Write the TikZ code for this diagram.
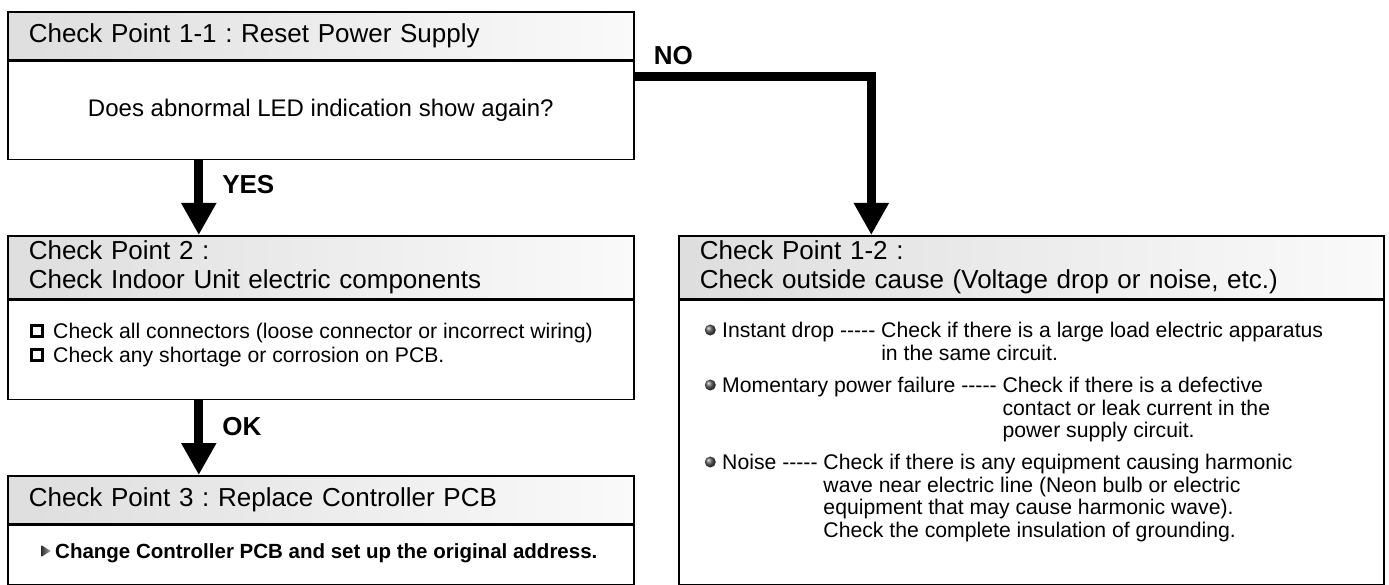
\documentclass[tikz,border=0pt]{standalone}
\usepackage{fontspec}
\setmainfont{Liberation Sans}
\usetikzlibrary{arrows.meta,positioning,shapes.geometric}
\frenchspacing
\newcommand\dashes{\mbox{-}\mbox{-}\mbox{-}\mbox{-}\mbox{-}}

\begin{document}
\begin{tikzpicture}[x=1pt,y=-1pt,
    box/.style={draw,line width=1.6pt,inner sep=0pt,anchor=north west},
    head/.style={box,shading=axis,left color=black!13,right color=black!2,
      align=left,inner xsep=21pt,font=\fontsize{26}{29.5}\selectfont},
    body/.style={box,fill=white},
    item/.style={anchor=north west,inner sep=0pt,align=left,
      font=\fontsize{21.2}{22.5}\selectfont},
    ball/.style={circle,inner sep=0pt,minimum size=11pt,ball color=black!65},
    tick/.style={draw,line width=2.7pt,inner sep=0pt,minimum size=11.5pt},
    pointer/.style={isosceles triangle,isosceles triangle apex angle=65,
      inner sep=0pt,minimum height=9pt,left color=black!80,right color=black!35},
    flow/.style={line width=9pt,-{Triangle[length=32pt,width=33pt]}},
    answer/.style={inner sep=0pt,font=\bfseries\fontsize{26}{29}\selectfont}]
  \useasboundingbox (0,0) rectangle (1389,585);

  % Check point 1-1
  \node[head,text width=584pt,minimum height=48pt] (hd1) at (7,11)
    {Check Point 1-1 : Reset Power Supply};
  \node[body,minimum width=626pt,minimum height=98pt,
    font=\fontsize{24}{28}\selectfont] (bd1) at (hd1.south west)
    {Does abnormal LED indication show again?};

  % Check point 2
  \node[head,text width=584pt,minimum height=63pt] (hd2) at (7,235)
    {Check Point 2 :\\Check Indoor Unit electric components};
  \node[body,minimum width=626pt,minimum height=99pt] (bd2) at (hd2.south west) {};
  \node[item] (conn) at (53,323)
    {Check all connectors (loose connector or incorrect wiring)};
  \node[item] (pcb) at (53,347) {Check any shortage or corrosion on PCB.};
  \node[tick,left=9pt of conn.north west,yshift=-8pt] {};
  \node[tick,left=9pt of pcb.north west,yshift=-8pt] {};

  % Check point 3
  \node[head,text width=584pt,minimum height=48pt] (hd3) at (7,475)
    {Check Point 3 : Replace Controller PCB};
  \node[body,minimum width=626pt,minimum height=59pt] (bd3) at (hd3.south west) {};
  \node[item,font=\bfseries\fontsize{20.5}{25}\selectfont] (swap) at (55,543)
    {Change Controller PCB and set up the original address.};
  \node[pointer,left=4pt of swap.north west,yshift=-8pt] {};

  % Check point 1-2
  \node[head,text width=663pt,minimum height=63pt] (hd4) at (678,235)
    {Check Point 1-2 :\\Check outside cause (Voltage drop or noise, etc.)};
  \node[body,minimum width=705pt,minimum height=284pt] (bd4) at (hd4.south west) {};
  \node[item] (drop) at (722,322)
    {Instant drop \dashes{} Check if there is a large load electric apparatus\\
     \hphantom{Instant drop \dashes{} }in the same circuit.};
  \node[item] (fail) at (722,377)
    {Momentary power failure \dashes{} Check if there is a defective\\
     \hphantom{Momentary power failure \dashes{} }contact or leak current in the\\
     \hphantom{Momentary power failure \dashes{} }power supply circuit.};
  \node[item] (noise) at (722,454)
    {Noise \dashes{} Check if there is any equipment causing harmonic\\
     \hphantom{Noise \dashes{} }wave near electric line (Neon bulb or electric\\
     \hphantom{Noise \dashes{} }equipment that may cause harmonic wave).\\
     \hphantom{Noise \dashes{} }Check the complete insulation of grounding.};
  \foreach \n in {drop,fail,noise}
    \node[ball,left=6pt of \n.north west,yshift=-8pt] {};

  % connectors
  \draw[flow] ([xshift=-122pt]bd1.south) -- ([xshift=-122pt]hd2.north)
    node[answer,pos=0.32,right=19pt] {YES};
  \draw[flow] ([xshift=-122pt]bd2.south) -- ([xshift=-122pt]hd3.north)
    node[answer,pos=0.35,right=19pt] {OK};
  \draw[flow] ([yshift=-16pt]hd1.south east) -| ([xshift=-160pt]hd4.north);
  \node[answer,anchor=base west] (no) at ([xshift=19pt,yshift=-4pt]hd1.south east) {NO};
\end{tikzpicture}
\end{document}
